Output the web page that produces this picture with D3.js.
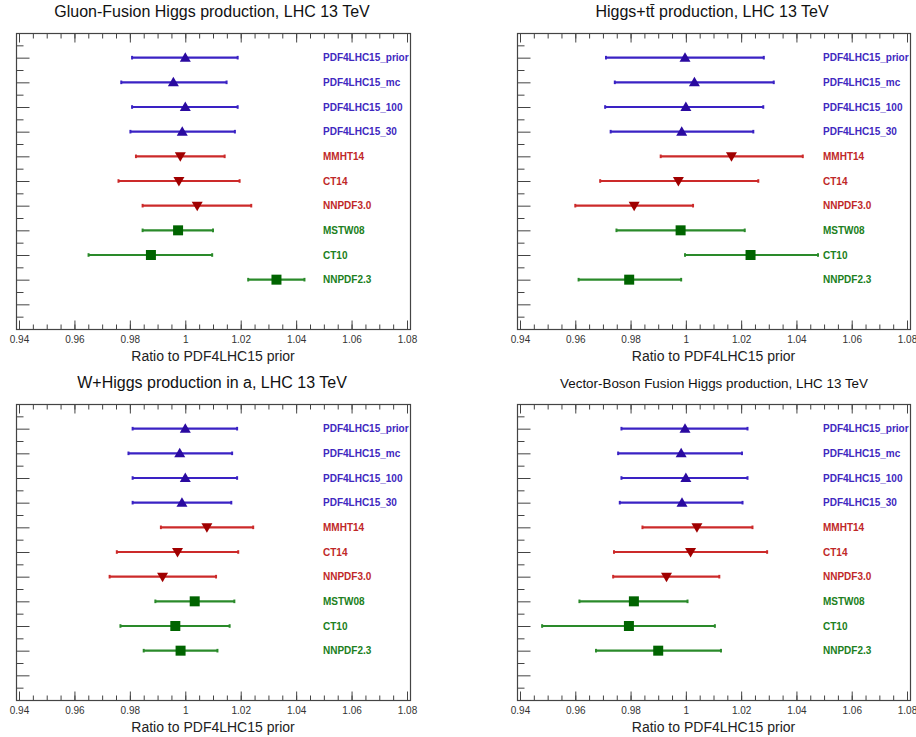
<!DOCTYPE html>
<html><head><meta charset="utf-8">
<script src="https://cdn.jsdelivr.net/npm/d3@7"></script>
<style>
body{margin:0;background:#fff;}
svg{display:block;font-family:"Liberation Sans",Arial,Helvetica,sans-serif;}
</style></head>
<body><svg id="c" width="916" height="737"></svg>
<script>
// ---- data ----
const pdfSets = ["PDF4LHC15_prior","PDF4LHC15_mc","PDF4LHC15_100","PDF4LHC15_30","MMHT14","CT14","NNPDF3.0","MSTW08","CT10","NNPDF2.3"];
const setGroup = ["pdf4lhc","pdf4lhc","pdf4lhc","pdf4lhc","new","new","new","old","old","old"];
const xTickValues = [0.94,0.96,0.98,1.00,1.02,1.04,1.06,1.08];
const xTickLabels = ["0.94","0.96","0.98","1","1.02","1.04","1.06","1.08"];
const xAxisTitle = "Ratio to PDF4LHC15 prior";

const ggfTitle = "Gluon-Fusion Higgs production, LHC 13 TeV";
const ggfCentral = [1.000,0.9957,1.000,0.9989,0.9982,0.9977,1.0043,0.9974,0.9876,1.0329];
const ggfLow     = [0.9808,0.9769,0.9808,0.9802,0.9822,0.9759,0.9846,0.9846,0.9651,1.0227];
const ggfHigh    = [1.0189,1.0149,1.0189,1.0179,1.0142,1.0196,1.0238,1.0100,1.0097,1.0430];

const tthTitle = "Higgs+tt\u0304 production, LHC 13 TeV";
const tthCentral = [0.9997,1.0031,1.000,0.9985,1.0165,0.9973,0.9813,0.9981,1.0234,0.9795];
const tthLow     = [0.9711,0.9743,0.9708,0.9728,0.9909,0.9690,0.9600,0.9749,0.9997,0.9612];
const tthHigh    = [1.0282,1.0318,1.0280,1.0244,1.0423,1.0262,1.0026,1.0213,1.0478,0.9983];

const whTitle = "W+Higgs production in a, LHC 13 TeV";
const whCentral = [1.000,0.998,1.000,0.9988,1.0078,0.9972,0.9918,1.0034,0.9964,0.9983];
const whLow     = [0.9810,0.9795,0.9810,0.9810,0.9912,0.9753,0.9727,0.9892,0.9766,0.9850];
const whHigh    = [1.0187,1.0169,1.0187,1.0166,1.0245,1.0191,1.0111,1.0177,1.0160,1.0116];

const vbfTitle = "Vector-Boson Fusion Higgs production, LHC 13 TeV";
const vbfCentral = [0.9997,0.9983,1.000,0.9986,1.0040,1.0017,0.9930,0.9812,0.9794,0.9900];
const vbfLow     = [0.9767,0.9755,0.9767,0.9761,0.9843,0.9740,0.9737,0.9615,0.9480,0.9675];
const vbfHigh    = [1.0223,1.0203,1.0223,1.0205,1.0241,1.0294,1.0121,1.0006,1.0105,1.0127];

// ---- styles ----
const lineColor  = {pdf4lhc:"#3a22c4", new:"#cc2a2a", old:"#2a8a2a"};
const markColor  = {pdf4lhc:"#2a0aa0", new:"#a00000", old:"#006400"};
const textColor  = {pdf4lhc:"#4028c0", new:"#c02828", old:"#208020"};
const markShape  = {pdf4lhc:"up", new:"down", old:"square"};

const svg = d3.select("#c");

const panels = [
  {title:ggfTitle, c:ggfCentral, lo:ggfLow, hi:ggfHigh, fx0:16, fx1:410, ax0:19, ax1:407, y0:33, y1:329, tx:212, ty:17, tfs:16, lx:323},
  {title:tthTitle, c:tthCentral, lo:tthLow, hi:tthHigh, fx0:517, fx1:910, ax0:520, ax1:907, y0:33, y1:329, tx:712, ty:17, tfs:16, lx:823},
  {title:whTitle, c:whCentral, lo:whLow, hi:whHigh, fx0:16, fx1:410, ax0:19, ax1:407, y0:404, y1:700, tx:212, ty:388, tfs:16, lx:323},
  {title:vbfTitle, c:vbfCentral, lo:vbfLow, hi:vbfHigh, fx0:517, fx1:910, ax0:520, ax1:907, y0:404, y1:700, tx:714, ty:388, tfs:13.4, lx:823}
];

panels.forEach(p => {
  const g = svg.append("g");
  const x = d3.scaleLinear().domain([0.94,1.08]).range([p.ax0,p.ax1]);
  const y = d3.scaleLinear().domain([0,12]).range([p.y0,p.y1]);

  // frame
  g.append("rect").attr("x",p.fx0+0.5).attr("y",p.y0+0.5)
    .attr("width",p.fx1-p.fx0).attr("height",p.y1-p.y0)
    .attr("fill","none").attr("stroke","#444").attr("stroke-width",1.2);

  const minor = d3.range(0.94,1.0801,0.005);
  // bottom axis
  const bMinor = d3.axisBottom(x).tickValues(minor).tickSize(-5).tickFormat("").tickSizeOuter(0);
  const bMajor = d3.axisBottom(x).tickValues(xTickValues).tickSize(-9).tickSizeOuter(0)
      .tickFormat((d,i)=>xTickLabels[i]);
  const gb1 = g.append("g").attr("transform",`translate(0,${p.y1+0.5})`).call(bMinor);
  const gb2 = g.append("g").attr("transform",`translate(0,${p.y1+0.5})`).call(bMajor);
  [gb1,gb2].forEach(a=>{a.select(".domain").remove(); a.selectAll("line").attr("stroke","#444");});
  gb2.selectAll("text").attr("y",6).attr("dy","0.71em").attr("font-size",10).attr("fill","#333")
     .attr("font-family","Liberation Sans, Arial, sans-serif");
  // top axis
  const tMinor = d3.axisTop(x).tickValues(minor).tickSize(-5).tickFormat("").tickSizeOuter(0);
  const tMajor = d3.axisTop(x).tickValues(xTickValues).tickSize(-9).tickFormat("").tickSizeOuter(0);
  [tMinor,tMajor].forEach(ax=>{
    const a = g.append("g").attr("transform",`translate(0,${p.y0+0.5})`).call(ax);
    a.select(".domain").remove(); a.selectAll("line").attr("stroke","#444");
  });
  // left axis
  const lMinor = d3.axisLeft(y).tickValues(d3.range(0.5,12,1)).tickSize(-7).tickFormat("").tickSizeOuter(0);
  const lMajor = d3.axisLeft(y).tickValues(d3.range(1,12,1)).tickSize(-13).tickFormat("").tickSizeOuter(0);
  [lMinor,lMajor].forEach(ax=>{
    const a = g.append("g").attr("transform",`translate(${p.fx0+0.5},0)`).call(ax);
    a.select(".domain").remove(); a.selectAll("line").attr("stroke","#444");
  });

  // axis title
  g.append("text").attr("x",(p.ax0+p.ax1)/2).attr("y",p.y1+32)
    .attr("text-anchor","middle").attr("font-size",14).attr("fill","#222").text(xAxisTitle);
  // panel title
  g.append("text").attr("x",p.tx).attr("y",p.ty).attr("text-anchor","middle")
    .attr("font-size",p.tfs).attr("fill","#111").text(p.title);

  // error bars
  pdfSets.forEach((name,i)=>{
    const grp = setGroup[i];
    const yy = y(i+1);
    g.append("line").attr("x1",x(p.lo[i])).attr("x2",x(p.hi[i])).attr("y1",yy).attr("y2",yy)
      .attr("stroke",lineColor[grp]).attr("stroke-width",2.2);
    [p.lo[i],p.hi[i]].forEach(v=>{
      g.append("line").attr("x1",x(v)).attr("x2",x(v)).attr("y1",yy-1.8).attr("y2",yy+1.8)
        .attr("stroke",lineColor[grp]).attr("stroke-width",2);
    });
    const cx = x(p.c[i]);
    const shape = markShape[grp];
    let path;
    if (shape==="up") path = `M${cx},${yy-5.5}L${cx+5.5},${yy+4}L${cx-5.5},${yy+4}Z`;
    else if (shape==="down") path = `M${cx},${yy+5.5}L${cx+5.5},${yy-4}L${cx-5.5},${yy-4}Z`;
    else path = `M${cx-5},${yy-5}h10v10h-10Z`;
    g.append("path").attr("d",path).attr("fill",markColor[grp]);
    g.append("text").attr("x",p.lx).attr("y",yy+3.5).attr("font-size",10).attr("font-weight","bold")
      .attr("fill",textColor[grp]).text(name);
  });
});
</script></body></html>
